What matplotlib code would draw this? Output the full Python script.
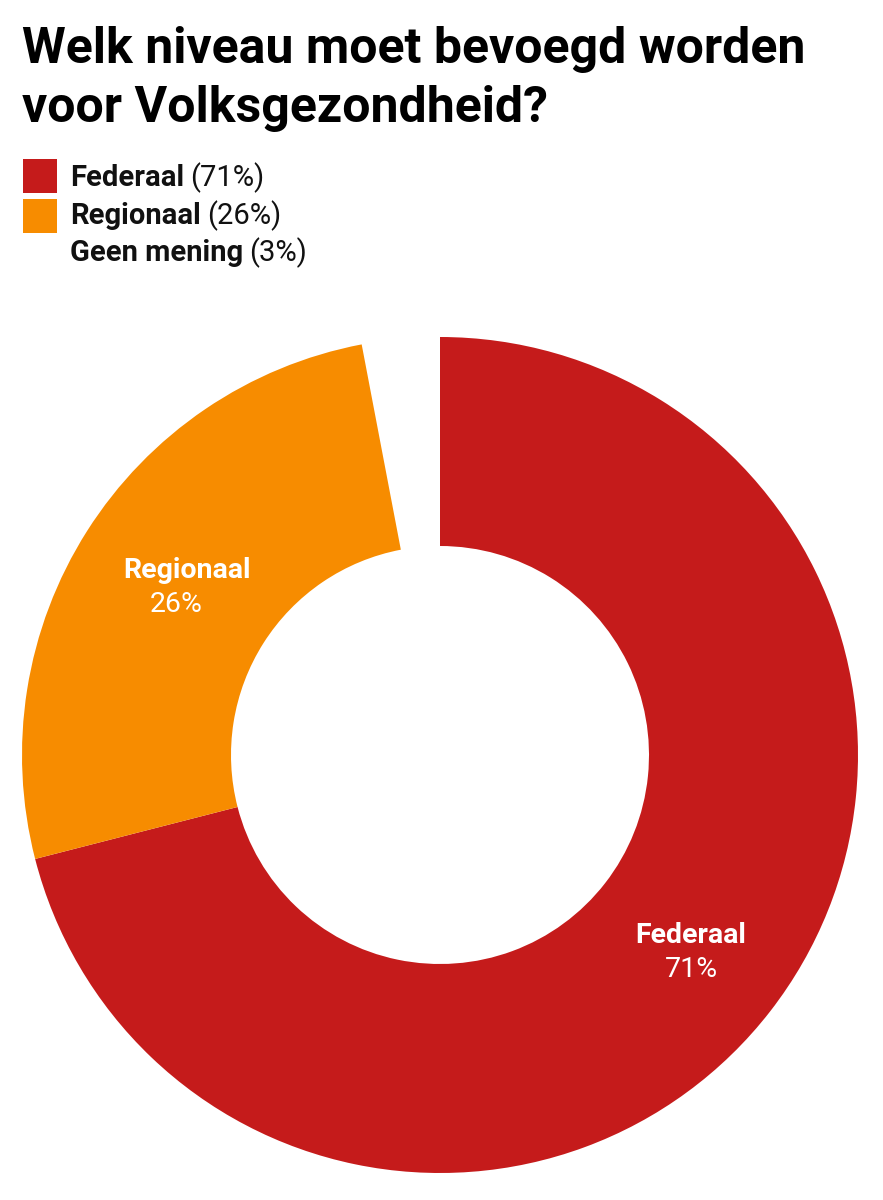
import matplotlib
matplotlib.use('Agg')
import matplotlib.pyplot as plt

labels = ['Federaal', 'Regionaal', 'Geen mening']
values = [71, 26, 3]
colors = ['#C51B1B', '#F78C00', 'none']
title_lines = ['Welk niveau moet bevoegd worden', 'voor Volksgezondheid?']

plt.rcParams['font.family'] = ['Roboto', 'DejaVu Sans']

W, H = 883, 1200
fig = plt.figure(figsize=(W/100, H/100), dpi=100)
ax = fig.add_axes([0, 0, 1, 1])

# pie in pixel-like coordinates (y from the bottom)
cx, cy, r = 440, H - 755, 418
wedges, _ = ax.pie(values, colors=colors, startangle=90, counterclock=False,
                   center=(cx, cy), radius=r,
                   wedgeprops=dict(width=r*0.5, linewidth=0))
wedges[2].set_visible(False)
ax.set_xlim(0, W)
ax.set_ylim(0, H)
ax.set_aspect('auto')
ax.axis('off')

# labels in the slices
ax.text(187, H-578, labels[1], color='white', fontsize=20.5, fontweight='bold', ha='center', va='baseline')
ax.text(176, H-612, '%d%%' % values[1], color='white', fontsize=20.5, ha='center', va='baseline')
ax.text(691, H-943, labels[0], color='white', fontsize=20.5, fontweight='bold', ha='center', va='baseline')
ax.text(691, H-977, '%d%%' % values[0], color='white', fontsize=20.5, ha='center', va='baseline')

# title
for line, y in zip(title_lines, [63, 122]):
    ax.text(22, H-y, line, fontsize=36, fontweight='bold', ha='left', va='baseline', color='black')

# legend
renderer = fig.canvas.get_renderer()
ys = [186, 224, 261]
boxes = [(159, 193), (199, 233), None]
for lab, val, col, y, bx in zip(labels, values, colors, ys, boxes):
    if bx is not None:
        ax.add_patch(plt.Rectangle((23, H-bx[1]), 34, bx[1]-bx[0], color=col, lw=0))
    t = ax.text(70, H-y, lab, fontsize=21, fontweight='bold', ha='left', va='baseline', color='#111111')
    bb = t.get_window_extent(renderer)
    ax.text(bb.x1 + 6, H-y, '(%d%%)' % val, fontsize=21, ha='left', va='baseline', color='#111111')

fig.savefig('out.png', dpi=100)
